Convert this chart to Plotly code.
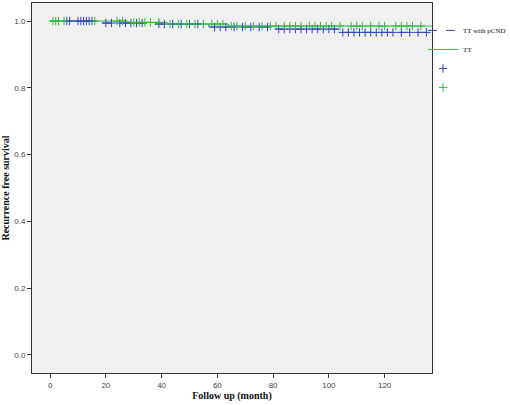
import numpy as np
import plotly.graph_objects as go

# Kaplan-Meier step data (month, survival)
pcnd_times = [0, 18, 37, 57, 80, 104, 137]
pcnd_surv = [1.0, 0.994, 0.991, 0.982, 0.976, 0.966, 0.966]

tt_times = [0, 28, 42, 64, 137]
tt_surv = [1.0, 0.996, 0.991, 0.985, 0.985]

# censored observations (month)
pcnd_censor = [6, 7, 10, 11, 12, 13, 14, 15, 20, 22, 25, 27, 29, 31, 33,
               39, 41, 44, 47, 50, 53, 59, 61, 63, 66, 69, 72, 75, 78,
               82, 84, 86, 88, 90, 92, 94, 96, 98, 100, 102, 105, 107,
               109, 111, 113, 115, 117, 119, 121, 123, 126, 129, 132, 135]
tt_censor = [1, 2, 3, 5, 16, 24, 26, 30, 32, 34, 36, 39, 43, 46, 49, 52,
             55, 58, 60, 62, 65, 67, 70, 73, 76, 79, 81, 84, 86, 88, 90,
             93, 95, 97, 99, 101, 104, 108, 110, 112, 115, 118, 120, 124,
             126, 128, 130, 133]

BLUE = "#3344bb"
GREEN = "#33bb44"
SERIF = "Liberation Serif"
SANS = "Liberation Sans"


def surv_at(times, surv, pts):
    idx = np.searchsorted(times, pts, side="right") - 1
    return [surv[i] for i in idx]


fig = go.Figure()
fig.add_trace(go.Scatter(
    x=pcnd_times, y=pcnd_surv, mode="lines", line_shape="hv",
    line=dict(color=BLUE, width=1, dash="dash"), name="TT with pCND",
))
fig.add_trace(go.Scatter(
    x=tt_times, y=tt_surv, mode="lines", line_shape="hv",
    line=dict(color=GREEN, width=1), name="TT",
))
fig.add_trace(go.Scatter(
    x=pcnd_censor, y=surv_at(pcnd_times, pcnd_surv, pcnd_censor), mode="markers",
    marker=dict(symbol="cross-thin", size=6, line=dict(color=BLUE, width=1)),
    name=" ",
))
fig.add_trace(go.Scatter(
    x=tt_censor, y=surv_at(tt_times, tt_surv, tt_censor), mode="markers",
    marker=dict(symbol="cross-thin", size=6, line=dict(color=GREEN, width=1)),
    name="  ",
))

axis_common = dict(
    showgrid=False, zeroline=False, showline=True, linecolor="#333333",
    linewidth=1, mirror=True, ticks="outside", ticklen=4, tickcolor="#333333",
    tickfont=dict(family=SANS, size=8, color="#444444"), automargin=False,
)
fig.update_xaxes(
    range=[-6.5, 137], tickvals=[0, 20, 40, 60, 80, 100, 120],
    title=dict(text="<b>Follow up (month)</b>", font=dict(family=SERIF, size=10, color="#111111"),
               standoff=2),
    **axis_common,
)
fig.update_yaxes(
    range=[-0.054, 1.054], tickvals=[0, 0.2, 0.4, 0.6, 0.8, 1.0], tickformat=".1f",
    title=dict(text="<b>Recurrence free survival</b>", font=dict(family=SERIF, size=10, color="#111111"),
               standoff=4),
    **axis_common,
)
fig.update_layout(
    template="none",
    width=510, height=405,
    margin=dict(l=32, r=78, t=3, b=32, autoexpand=False),
    paper_bgcolor="white", plot_bgcolor="#f0f0f0",
    legend=dict(x=0.9775, y=0.965, xanchor="left", yanchor="top",
                font=dict(family=SERIF, size=7, color="#111111"),
                tracegroupgap=0, itemwidth=30, bgcolor="rgba(0,0,0,0)"),
)

# drop the default page margin so the figure sits at the window's top-left
fig.write_html("out.html", config={"displayModeBar": False},
               post_script="document.body.style.margin='0';")
